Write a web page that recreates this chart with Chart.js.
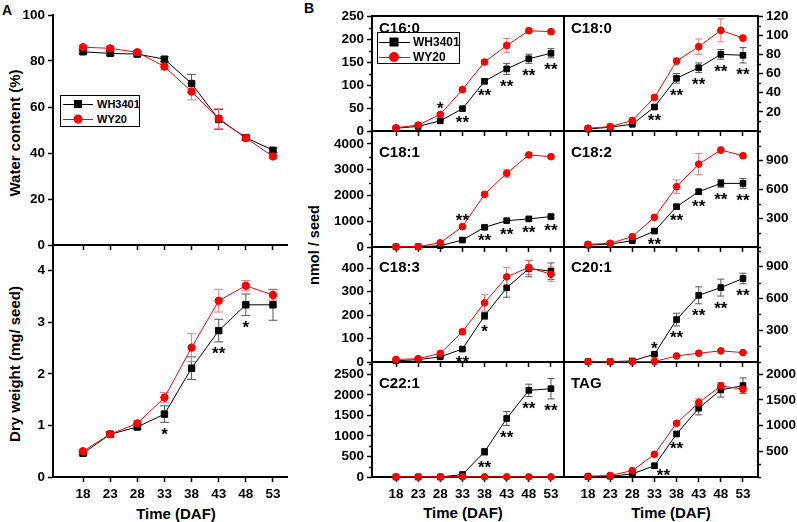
<!DOCTYPE html>
<html>
<head>
<meta charset="utf-8">
<script src="https://cdn.jsdelivr.net/npm/chart.js@4.4.0/dist/chart.umd.min.js"></script>
<style>
body{margin:0;background:#fff;width:797px;height:522px;position:relative;overflow:hidden;font-family:"Liberation Sans",Arial,sans-serif;font-weight:bold;color:#000}
canvas{position:absolute;left:0;top:0}
.c{position:absolute;transform:translate(-50%,-50%);line-height:1;white-space:nowrap}
.l{position:absolute;transform:translate(0,-50%);line-height:1;white-space:nowrap}
.v{position:absolute;transform:translate(-50%,-50%) rotate(-90deg);line-height:1;white-space:nowrap;font-size:15px}
.box{position:absolute;border:1px solid #000;box-sizing:border-box;background:#fff}
.ln{position:absolute;height:1px}
.sq{position:absolute;background:#000;transform:translate(-50%,-50%)}
.ci{position:absolute;background:#f00;border-radius:50%;transform:translate(-50%,-50%)}
</style>
</head>
<body>
<div class="c" style="left:7px;top:10px;font-size:14px">A</div>
<div class="c" style="left:309px;top:8px;font-size:14px">B</div>
<div class="v" style="left:14px;top:133px">Water content (%)</div>
<div class="v" style="left:14px;top:364px">Dry weight (mg/ seed)</div>
<div class="v" style="left:314px;top:245px;font-size:14.5px">nmol / seed</div>
<div class="c" style="left:176px;top:513px;font-size:15px">Time (DAF)</div>
<div class="c" style="left:463px;top:512px;font-size:15px">Time (DAF)</div>
<div class="c" style="left:671px;top:512px;font-size:15px">Time (DAF)</div>
<script>
// sampling days
const days = [18, 23, 28, 33, 38, 43, 48, 53];
const seriesNames = ['WH3401', 'WY20'];

// A: water content (%)
const waterWH = [84, 83.3, 83, 80.8, 70.2, 54.6, 46.7, 41.2];
const waterWHErr = [0.8, 0.8, 0.8, 1, 4, 4.3, 1, 1];
const waterWY = [86, 85.5, 83.8, 77.6, 66.7, 55, 46.5, 38.5];
const waterWYErr = [0.8, 0.8, 0.8, 1.5, 3.6, 4.3, 1, 0.8];
const waterSig = ['', '', '', '', '', '', '', ''];
const waterTicks = [0, 20, 40, 60, 80, 100];

// A: dry weight (mg/seed)
const dryWH = [0.46, 0.83, 0.97, 1.22, 2.11, 2.84, 3.34, 3.34];
const dryWHErr = [0.03, 0.04, 0.04, 0.16, 0.22, 0.22, 0.21, 0.3];
const dryWY = [0.5, 0.83, 1.04, 1.54, 2.51, 3.42, 3.71, 3.53];
const dryWYErr = [0.03, 0.04, 0.05, 0.1, 0.27, 0.22, 0.1, 0.1];
const drySig = ['', '', '', '*', '', '**', '*', ''];
const dryTicks = [0, 1, 2, 3, 4];

// B: fatty acids (nmol/seed)
const c160WH = [6, 10, 22, 48.5, 108, 135, 157, 169];
const c160WHErr = [1, 1, 2, 3, 5, 12, 10, 10];
const c160WY = [7, 13, 36, 90, 150, 186, 218, 216];
const c160WYErr = [1, 1, 2, 3, 5, 15, 5, 5];
const c160Sig = ['', '', '*', '**', '**', '**', '**', '**'];
const c160Up = [28];
const c160Ticks = [0, 50, 100, 150, 200, 250];

const c180WH = [2, 4, 7, 25, 55, 66, 80, 79];
const c180WHErr = [0.5, 0.5, 1, 2, 5, 5, 5, 8];
const c180WY = [3, 4.5, 11, 35, 73, 88, 105, 97];
const c180WYErr = [0.5, 0.5, 1, 2, 3, 8, 12, 3];
const c180Sig = ['', '', '', '**', '**', '**', '**', '**'];
const c180Ticks = [20, 40, 60, 80, 100, 120];

const c181WH = [5, 10, 50, 270, 765, 1020, 1090, 1180];
const c181WHErr = [5, 5, 10, 20, 40, 60, 60, 60];
const c181WY = [10, 15, 165, 790, 2045, 2860, 3570, 3505];
const c181WYErr = [5, 5, 20, 40, 60, 150, 100, 60];
const c181Sig = ['', '', '', '**', '**', '**', '**', '**'];
const c181Up = [33];
const c181Ticks = [0, 1000, 2000, 3000, 4000];

const c182WH = [20, 30, 65, 165, 417, 572, 658, 658];
const c182WHErr = [3, 3, 5, 10, 20, 25, 40, 50];
const c182WY = [28, 38, 107, 307, 624, 858, 1003, 944];
const c182WYErr = [3, 3, 8, 15, 70, 110, 30, 20];
const c182Sig = ['', '', '', '**', '**', '**', '**', '**'];
const c182Ticks = [300, 600, 900];

const c183WH = [5, 10, 22, 55, 197, 316, 398, 387];
const c183WHErr = [1, 1, 2, 4, 15, 40, 35, 35];
const c183WY = [11, 14, 37, 129, 252, 363, 403, 374];
const c183WYErr = [1, 2, 3, 10, 35, 40, 30, 30];
const c183Sig = ['', '', '', '**', '*', '', '', ''];
const c183Ticks = [0, 100, 200, 300, 400];

const c201WH = [3, 3, 10, 73, 400, 629, 702, 788];
const c201WHErr = [1, 1, 2, 10, 60, 80, 80, 50];
const c201WY = [2, 2, 4, 5, 57, 83, 105, 89];
const c201WYErr = [1, 1, 1, 2, 5, 5, 5, 5];
const c201Sig = ['', '', '', '*', '**', '**', '**', '**'];
const c201Up = [33];
const c201Ticks = [300, 600, 900];

const c221WH = [0, 0, 0, 60, 614, 1425, 2110, 2150];
const c221WHErr = [0, 0, 0, 10, 80, 170, 150, 250];
const c221WY = [5, 5, 5, 5, 5, 5, 5, 5];
const c221WYErr = [0, 0, 0, 0, 0, 0, 0, 0];
const c221Sig = ['', '', '', '', '**', '**', '**', '**'];
const c221Ticks = [0, 500, 1000, 1500, 2000, 2500];

const tagWH = [5, 15, 60, 220, 838, 1340, 1696, 1780];
const tagWHErr = [2, 3, 10, 20, 50, 130, 140, 150];
const tagWY = [15, 30, 123, 442, 1047, 1448, 1774, 1710];
const tagWYErr = [3, 5, 10, 20, 40, 80, 60, 40];
const tagSig = ['', '', '', '**', '**', '', '', ''];
const tagTicks = [500, 1000, 1500, 2000];

const FONT = 'Liberation Sans';
Chart.defaults.font.family = FONT;
Chart.defaults.font.weight = 'bold';
Chart.defaults.color = '#000';

const panels = [
  {name:'', box:[53,287,15,245], xr:[12.47,55.58], yMax:100, ticks:waterTicks, minor:0, wh:waterWH, whE:waterWHErr, wy:waterWY, wyE:waterWYErr, sig:waterSig, up:[], xLab:false, big:true},
  {name:'', box:[53,287,245,477], xr:[12.47,55.58], yMax:4.5, ticks:dryTicks, minor:0, wh:dryWH, whE:dryWHErr, wy:dryWY, wyE:dryWYErr, sig:drySig, up:[], xLab:true, big:true},
  {name:'C16:0', box:[372,564,16,131], xr:[12.58,55.94], yMax:250, ticks:c160Ticks, minor:25, wh:c160WH, whE:c160WHErr, wy:c160WY, wyE:c160WYErr, sig:c160Sig, up:c160Up, top:true},
  {name:'C18:0', box:[564,758,16,131], xr:[12.58,56.39], yMax:120, ticks:c180Ticks, minor:10, wh:c180WH, whE:c180WHErr, wy:c180WY, wyE:c180WYErr, sig:c180Sig, up:[], top:true, right:true},
  {name:'C18:1', box:[372,564,131,247], xr:[12.58,55.94], yMax:4500, ticks:c181Ticks, minor:500, wh:c181WH, whE:c181WHErr, wy:c181WY, wyE:c181WYErr, sig:c181Sig, up:c181Up},
  {name:'C18:2', box:[564,758,131,247], xr:[12.58,56.39], yMax:1200, ticks:c182Ticks, minor:150, wh:c182WH, whE:c182WHErr, wy:c182WY, wyE:c182WYErr, sig:c182Sig, up:[], right:true},
  {name:'C18:3', box:[372,564,247,362], xr:[12.58,55.94], yMax:490, ticks:c183Ticks, minor:50, wh:c183WH, whE:c183WHErr, wy:c183WY, wyE:c183WYErr, sig:c183Sig, up:[]},
  {name:'C20:1', box:[564,758,247,362], xr:[12.58,56.39], yMax:1085, ticks:c201Ticks, minor:150, wh:c201WH, whE:c201WHErr, wy:c201WY, wyE:c201WYErr, sig:c201Sig, up:c201Up, right:true},
  {name:'C22:1', box:[372,564,362,477], xr:[12.58,55.94], yMax:2800, ticks:c221Ticks, minor:250, wh:c221WH, whE:c221WHErr, wy:c221WY, wyE:c221WYErr, sig:c221Sig, up:[], xLab:true},
  {name:'TAG', box:[564,758,362,477], xr:[12.58,56.39], yMax:2240, ticks:tagTicks, minor:250, wh:tagWH, whE:tagWHErr, wy:tagWY, wyE:tagWYErr, sig:tagSig, up:[], xLab:true, right:true}
];

const AXW = 50;   // forced width of vertical axes
const AXH = 35;   // forced height of bottom axes

// error bars, significance stars and minor ticks
function extras(p) {
  const cap = p.big ? 4.5 : 3.5;
  return {
    id: 'extras',
    beforeDatasetsDraw(chart) {
      const ctx = chart.ctx, xs = chart.scales.x, ys = chart.scales.y;
      [[p.wh, p.whE, '#555'], [p.wy, p.wyE, '#f07878']].forEach(([vals, errs, col]) => {
        ctx.save();
        ctx.strokeStyle = col; ctx.lineWidth = 1;
        vals.forEach((v, i) => {
          if (!errs[i]) return;
          const x = xs.getPixelForValue(days[i]);
          const y1 = ys.getPixelForValue(v - errs[i]), y2 = ys.getPixelForValue(v + errs[i]);
          ctx.beginPath();
          ctx.moveTo(x, y1); ctx.lineTo(x, y2);
          ctx.moveTo(x - cap, y1); ctx.lineTo(x + cap, y1);
          ctx.moveTo(x - cap, y2); ctx.lineTo(x + cap, y2);
          ctx.stroke();
        });
        ctx.restore();
      });
    },
    afterDatasetsDraw(chart) {
      const ctx = chart.ctx, xs = chart.scales.x, ys = chart.scales.y;
      const bottom = chart.chartArea.bottom;
      ctx.save();
      ctx.fillStyle = '#000';
      ctx.font = 'bold 17px "' + FONT + '"';
      ctx.textAlign = 'center';
      ctx.textBaseline = 'alphabetic';
      p.sig.forEach((s, i) => {
        if (!s) return;
        let x = xs.getPixelForValue(days[i]);
        let yc;
        if (p.up.includes(days[i])) {
          yc = ys.getPixelForValue(Math.max(p.wh[i] + p.whE[i], p.wy[i] + p.wyE[i])) - 9;
        } else {
          yc = ys.getPixelForValue(p.wh[i] - p.whE[i]) + 8;
          // too close to the axis: nudge to the right, as in the original
          if (yc > bottom - 3.5) { yc = bottom - 6; x += 9; }
        }
        ctx.fillText(s, x, yc + 9.5);
      });
      ctx.restore();
    },
    afterDraw(chart) {
      if (!p.minor) return;
      const ctx = chart.ctx, ys = chart.scales.y, ca = chart.chartArea;
      const x0 = p.right ? ca.right : ca.left, dir = p.right ? 1 : -1;
      ctx.save();
      ctx.strokeStyle = '#000'; ctx.lineWidth = 1.5;
      ctx.beginPath();
      for (let v = 0; v <= p.yMax + 1e-6; v += p.minor) {
        if (p.ticks.includes(v)) continue;
        const y = Math.round(ys.getPixelForValue(v)) + 0.5;
        ctx.moveTo(x0, y); ctx.lineTo(x0 + dir * 3, y);
      }
      ctx.stroke();
      ctx.restore();
    }
  };
}

const gridOpts = {display:true, drawOnChartArea:false, drawTicks:true, tickLength:5, tickWidth:1.5, tickColor:'#000'};
const borderOpts = {display:true, color:'#000', width:2};

panels.forEach(p => {
  const [l, r, t, b] = p.box;
  const cv = document.createElement('canvas');
  cv.width = 797; cv.height = 522;
  document.body.appendChild(cv);

  const pts = vals => days.map((d, i) => ({x: d, y: vals[i]}));
  const rs = p.big ? 4.5 : 4.0, rc = p.big ? 3.7 : 3.35;
  const tickFont = {family: FONT, weight: 'bold', size: 13.5};

  const scales = {
    x: {
      type:'linear', position:'bottom', min:p.xr[0], max:p.xr[1],
      afterBuildTicks: s => { s.ticks = days.map(v => ({value: v})); },
      afterFit: s => { s.height = AXH; },
      grid: gridOpts, border: borderOpts,
      ticks: {font: tickFont, color:'#000', padding:4, autoSkip:false, maxRotation:0,
              callback: v => p.xLab ? String(v) : ''}
    },
    y: {
      type:'linear', position: p.right ? 'right' : 'left', min:0, max:p.yMax,
      afterBuildTicks: s => { s.ticks = p.ticks.map(v => ({value: v})); },
      afterFit: s => { s.width = AXW; },
      grid: gridOpts, border: borderOpts,
      ticks: {font: tickFont, color:'#000', padding:3, autoSkip:false, callback: v => String(v)}
    }
  };
  if (p.right) {
    scales.yl = {type:'linear', position:'left', min:0, max:1, afterFit: s => { s.width = AXW; },
      grid:{display:false}, border: borderOpts, ticks:{display:false}};
  }
  if (p.top) {
    scales.xt = {type:'linear', position:'top', min:0, max:1, afterFit: s => { s.height = 5; },
      grid:{display:false}, border: borderOpts, ticks:{display:false}};
  }

  new Chart(cv, {
    type: 'line',
    data: {
      datasets: [
        {label: seriesNames[0], data: pts(p.wh), borderColor:'#000', backgroundColor:'#000', borderWidth:1,
         pointStyle:'rect', pointRadius: rs, pointBorderWidth:1, pointBorderColor:'#000', pointBackgroundColor:'#000',
         order:2, clip:false, tension:0},
        {label: seriesNames[1], data: pts(p.wy), borderColor:'#ff0000', backgroundColor:'#ff0000', borderWidth:1,
         pointStyle:'circle', pointRadius: rc, pointBorderWidth:1, pointBorderColor:'#ff0000', pointBackgroundColor:'#ff0000',
         order:1, clip:false, tension:0}
      ]
    },
    options: {
      responsive:false, animation:false, events:[],
      layout: {padding: {
        left: l - AXW,
        right: 797 - r - (p.right ? AXW : 0),
        top: t - (p.top ? 5 : 0),
        bottom: 522 - b - AXH
      }},
      plugins: {legend:{display:false}, tooltip:{enabled:false}},
      scales
    },
    plugins: [extras(p)]
  });
});

// panel titles
const titleY = {16: 26.5, 131: 150.5, 247: 265.5, 362: 381.5};
panels.forEach(p => {
  if (!p.name) return;
  const d = document.createElement('div');
  d.className = 'l';
  d.style.left = (p.box[0] + 7) + 'px';
  d.style.top = titleY[p.box[2]] + 'px';
  d.style.fontSize = '15px';
  d.textContent = p.name;
  document.body.appendChild(d);
});

// legends
function legend(x, y, w, h, rows, lx0, lx1, mx, tx, sq, ci, fs) {
  const box = document.createElement('div');
  box.className = 'box';
  Object.assign(box.style, {left: x + 'px', top: y + 'px', width: w + 'px', height: h + 'px'});
  document.body.appendChild(box);
  rows.forEach((ry, i) => {
    const ln = document.createElement('div');
    ln.className = 'ln';
    Object.assign(ln.style, {left: lx0 + 'px', top: (ry - 0.5) + 'px', width: (lx1 - lx0) + 'px', background: i ? '#f00' : '#000'});
    document.body.appendChild(ln);
    const m = document.createElement('div');
    m.className = i ? 'ci' : 'sq';
    const s = i ? ci : sq;
    Object.assign(m.style, {left: mx + 'px', top: ry + 'px', width: s + 'px', height: s + 'px'});
    document.body.appendChild(m);
    const t = document.createElement('div');
    t.className = 'l';
    Object.assign(t.style, {left: tx + 'px', top: ry + 'px', fontSize: fs + 'px'});
    t.textContent = seriesNames[i];
    document.body.appendChild(t);
  });
}
legend(60, 95, 80, 32, [104, 119], 63, 93, 78, 97, 8, 9, 11);
legend(377, 32, 83, 32, [42, 57], 379, 410, 394, 413, 9, 10, 12);
</script>
</body>
</html>
